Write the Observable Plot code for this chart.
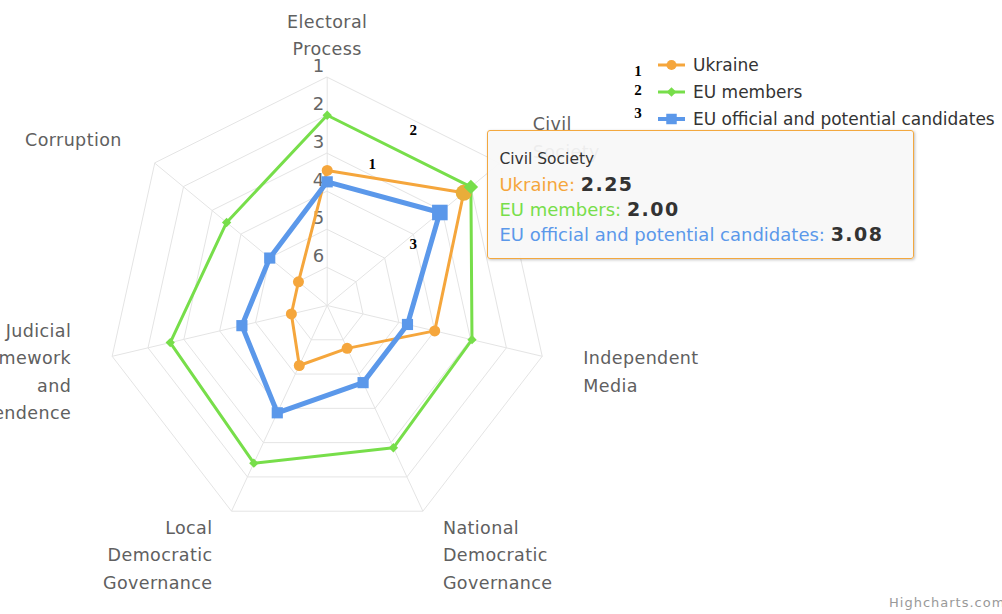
<!DOCTYPE html>
<html>
<head>
<meta charset="utf-8">
<script src="https://cdn.jsdelivr.net/npm/d3@7"></script>
<script src="https://cdn.jsdelivr.net/npm/@observablehq/plot@0.6"></script>
<style>
  html, body { margin: 0; padding: 0; background: #fff; overflow: hidden; }
  #wrap { position: relative; width: 1002px; height: 614px; overflow: hidden; font-family: "DejaVu Sans", sans-serif; }
  #wrap > svg { position: absolute; left: 0; top: 0; }
  .axlab { letter-spacing: 0.4px; }
  .tip { position: absolute; box-sizing: border-box; border: 1px solid #f3a83f; border-radius: 3px;
         background: rgba(247,247,247,0.93); box-shadow: 1px 1px 3px rgba(0,0,0,0.25); }
  .tip div { position: absolute; left: 11px; white-space: nowrap; line-height: 22px; }
  .tip b { color: #333; font-size: 19px; letter-spacing: 1.5px; font-weight: 600; }
  .credit { position: absolute; left: 889px; top: 595px; font-size: 13px; color: #999; letter-spacing: 1px; white-space: nowrap; }
</style>
</head>
<body>
<div id="wrap"></div>
<script>
// ---- data ----
const categories = [
  "Electoral Process",
  "Civil Society",
  "Independent Media",
  "National Democratic Governance",
  "Local Democratic Governance",
  "Judicial Framework and Independence",
  "Corruption"
];
const categoryLabels = [
  "Electoral\nProcess",
  "Civil\nSociety",
  "Independent\nMedia",
  "National\nDemocratic\nGovernance",
  "Local\nDemocratic\nGovernance",
  "Judicial\nFramework\nand\nIndependence",
  "Corruption"
];
const seriesNames = ["Ukraine", "EU members", "EU official and potential candidates"];
const ukraine    = [3.45, 2.25, 4.00, 5.75, 5.25, 6.00, 6.00];
const euMembers  = [2.00, 2.00, 2.96, 2.85, 2.40, 2.62, 3.50];
const candidates = [3.75, 3.08, 4.76, 4.75, 3.87, 4.62, 5.00];
const ringTicks = [1, 2, 3, 4, 5, 6];
const seriesNumbers = ["1", "2", "3"];
const tooltipCategory = "Civil Society";
// hand-written annotation numbers: angle (deg from top) and value on the reversed radial scale
const annotations = [
  {label: "1", angle: 18.2, value: 3.08},
  {label: "2", angle: 26.9, value: 1.82},
  {label: "3", angle: 55.3, value: 4.15}
];

const colors = ["#f5a63c", "#77de4a", "#5b98ea"];
const symbols = ["circle", "diamond2", "square"];
const allSeries = [ukraine, euMembers, candidates];

// ---- polar helpers (radial scale reversed: 1 outside, 7 centre) ----
const N = categories.length, MAXV = 7;
const ang = i => i * 2 * Math.PI / N;
const pxOf = (a, v) => Math.sin(a) * (MAXV - v);
const pyOf = (a, v) => Math.cos(a) * (MAXV - v);

const rows = [];
allSeries.forEach((vals, s) => vals.forEach((v, i) => rows.push({
  series: seriesNames[s], s, cat: categories[i], i, v, x: pxOf(ang(i), v), y: pyOf(ang(i), v)
})));
const gridRows = [];
ringTicks.forEach(t => categories.forEach((c, i) => gridRows.push({ring: t, x: pxOf(ang(i), t), y: pyOf(ang(i), t)})));
const spokes = categories.map((c, i) => ({x1: 0, y1: 0, x2: pxOf(ang(i), 1), y2: pyOf(ang(i), 1)}));
const tickRows = ringTicks.map(t => ({t, x: 0, y: pyOf(0, t)}));
const annRows = annotations.map(a => ({...a, x: pxOf(a.angle * Math.PI / 180, a.value), y: pyOf(a.angle * Math.PI / 180, a.value)}));
const tipIndex = categories.indexOf(tooltipCategory);

// ---- layout of the plotting area ----
const cx = 326.7, cy = 305, ux = 36.76, uy = 38.05;

// axis label marks, one per category, anchored by angle
const labelMarks = categories.map((c, i) => {
  const a = ang(i), sn = Math.sin(a), cs = Math.cos(a);
  let textAnchor = "middle", lineAnchor = "middle", dx = 0, dy = 0;
  if (i === 0) { lineAnchor = "bottom"; dy = -22; }
  else if (Math.abs(cs) > 0.85) { textAnchor = sn > 0 ? "start" : "end"; lineAnchor = "top"; dx = sn > 0 ? 20 : -19; dy = 3; }
  else if (cs < 0) { textAnchor = sn > 0 ? "start" : "end"; dx = sn > 0 ? 41 : -41; dy = 13; }
  else { textAnchor = sn > 0 ? "start" : "end"; dx = sn > 0 ? 33 : -33; dy = sn > 0 ? -28 : -26; }
  return Plot.text([{x: pxOf(a, 1), y: pyOf(a, 1), label: categoryLabels[i]}], {
    x: "x", y: "y", text: "label", textAnchor, lineAnchor, dx, dy,
    fontSize: 17.5, lineHeight: 1.57, fill: "#606060", className: "axlab"
  });
});

const tipRows = rows.filter(d => d.i === tipIndex);

const chart = Plot.plot({
  width: 1002, height: 614, margin: 0,
  x: {domain: [-6, 6], range: [cx - 6 * ux, cx + 6 * ux], axis: null},
  y: {domain: [-6, 6], range: [cy + 6 * uy, cy - 6 * uy], axis: null},
  style: {fontFamily: "DejaVu Sans, sans-serif", background: "transparent", overflow: "visible"},
  marks: [
    Plot.line(gridRows, {x: "x", y: "y", z: "ring", curve: "linear-closed", stroke: "#e4e4e4", strokeWidth: 1}),
    Plot.link(spokes, {x1: "x1", y1: "y1", x2: "x2", y2: "y2", stroke: "#e4e4e4", strokeWidth: 1}),
    ...labelMarks,
    Plot.text(tickRows, {x: "x", y: "y", text: d => String(d.t), textAnchor: "end", dx: -3, dy: -11, fontSize: 18, fill: "#666"}),
    // series
    ...allSeries.map((vals, s) => Plot.line(rows.filter(d => d.s === s), {
      x: "x", y: "y", curve: "linear-closed", stroke: colors[s], strokeWidth: s === 2 ? 5 : 3, strokeLinejoin: "round"
    })),
    // halos of hovered points
    Plot.dot(tipRows, {x: "x", y: "y", r: d => d.s === 2 ? 19 : d.s === 1 ? 15 : 12, fill: d => colors[d.s], fillOpacity: d => d.s === 0 ? 0.15 : 0.22}),
    ...allSeries.map((vals, s) => Plot.dot(rows.filter(d => d.s === s && d.i !== tipIndex), {
      x: "x", y: "y", symbol: symbols[s], fill: colors[s], r: s === 0 ? 5.5 : s === 1 ? 4.2 : 6.3
    })),
    ...allSeries.map((vals, s) => Plot.dot(tipRows.filter(d => d.s === s), {
      x: "x", y: "y", symbol: symbols[s], fill: s === 0 ? "#e9ad3a" : colors[s], r: s === 0 ? 8 : s === 1 ? 6.5 : 8.8
    })),
    Plot.text(annRows, {x: "x", y: "y", text: "label", fontSize: 15, fontWeight: "bold", fontFamily: "Liberation Serif, serif", fill: "#000"})
  ]
});
const wrap = document.getElementById("wrap");
wrap.appendChild(chart);

const xs = chart.scale("x"), ys = chart.scale("y");

// ---- legend ----
const leg = d3.select(wrap).append("svg").attr("width", 1002).attr("height", 614).style("pointer-events", "none");
seriesNames.forEach((name, k) => {
  const yRow = 65 + k * 27;
  const g = leg.append("g");
  g.append("line").attr("x1", 658).attr("x2", 685).attr("y1", yRow).attr("y2", yRow).attr("stroke", colors[k]).attr("stroke-width", k === 2 ? 4 : 3);
  const sym = k === 0 ? d3.symbolCircle : k === 1 ? d3.symbolDiamond2 : d3.symbolSquare;
  const size = k === 0 ? 80 : k === 1 ? 60 : 110;
  g.append("path").attr("d", d3.symbol(sym, size)()).attr("transform", `translate(671.5,${yRow})`).attr("fill", colors[k]);
  g.append("text").attr("x", 693).attr("y", yRow).attr("dy", "0.35em").attr("font-size", 17).attr("fill", "#333")
    .attr("font-family", "DejaVu Sans, sans-serif").text(name);
  g.append("text").attr("x", 638).attr("y", [71, 90, 113][k]).attr("dy", "0.35em").attr("text-anchor", "middle")
    .attr("font-size", 15).attr("font-weight", "bold").attr("font-family", "Liberation Serif, serif").attr("fill", "#000")
    .text(seriesNumbers[k]);
});

// ---- tooltip ----
const anchor = tipRows.find(d => d.s === 1);
const ax = xs.apply(anchor.x), ay = ys.apply(anchor.y);
const tip = document.createElement("div");
tip.className = "tip";
tip.style.left = (ax + 17) + "px";
tip.style.top = (ay - 56) + "px";
tip.style.width = "427px";
tip.style.height = "129px";
let html = `<div style="top:17px;font-size:15.5px;color:#333">${tooltipCategory}</div>`;
seriesNames.forEach((name, k) => {
  html += `<div style="top:${42 + k * 25}px;font-size:18px;color:${colors[k]}">${name}: <b>${allSeries[k][tipIndex].toFixed(2)}</b></div>`;
});
tip.innerHTML = html;
wrap.appendChild(tip);

// ---- credit ----
const credit = document.createElement("div");
credit.className = "credit";
credit.textContent = "Highcharts.com";
wrap.appendChild(credit);
</script>
</body>
</html>
